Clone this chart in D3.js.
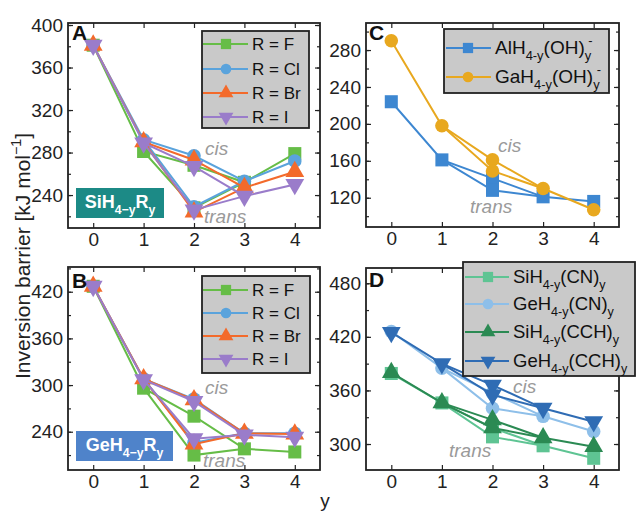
<!DOCTYPE html>
<html>
<head>
<meta charset="utf-8">
<script src="https://cdn.jsdelivr.net/npm/d3@7"></script>
<style>
body { margin: 0; background: #fff; }
text { font-family: "Liberation Sans", Arial, sans-serif; }
</style>
</head>
<body>
<svg id="chart" width="636" height="513"></svg>
<script>
var xTicks = [0, 1, 2, 3, 4];

// panel A: SiH4-yRy
var siLabels = ["R = F", "R = Cl", "R = Br", "R = I"];
var siCis = [[381, 281, 268, 252, 279], [381, 292, 277, 253, 272], [381, 290, 273, 247, 262], [381, 289, 267, 239, 250]];
var siTrans = [228, 229, 224, 226];
var siTicks = [240, 280, 320, 360, 400];

// panel B: GeH4-yRy
var geLabels = ["R = F", "R = Cl", "R = Br", "R = I"];
var geCis = [[427, 296, 260, 218, 214], [427, 308, 282, 238, 238], [427, 308, 281, 238, 237], [427, 307, 279, 236, 233]];
var geTrans = [210, 226, 224, 231];
var geTicks = [240, 300, 360, 420];

// panel C: hydroxides
var ohLabels = [[["AlH", "n"], ["4-y", "sub"], ["(OH)", "n"], ["y", "sub"], ["-", "sup", -3]],
                [["GaH", "n"], ["4-y", "sub"], ["(OH)", "n"], ["y", "sub"], ["-", "sup", -3]]];
var ohCis = [[224, 161, 141, 121, 116], [290, 198, 161, 130, 107]];
var ohTrans = [128, 149];
var ohTicks = [120, 160, 200, 240, 280];

// panel D: CN / CCH
var cnLabels = [[["SiH", "n"], ["4-y", "sub"], ["(CN)", "n"], ["y", "sub"]],
                [["GeH", "n"], ["4-y", "sub"], ["(CN)", "n"], ["y", "sub"]],
                [["SiH", "n"], ["4-y", "sub"], ["(CCH)", "n"], ["y", "sub"]],
                [["GeH", "n"], ["4-y", "sub"], ["(CCH)", "n"], ["y", "sub"]]];
var cnCis = [[379, 346, 318, 298, 284], [426, 385, 357, 331, 314], [380, 346, 327, 307, 297], [425, 390, 366, 340, 325]];
var cnTrans = [308, 340, 318, 355];
var cnTicks = [300, 360, 420, 480];

var halColors = ["#66bd47", "#5aa3dc", "#f36a2b", "#9a7cca"];
var halShapes = ["square", "circle", "up", "down"];

var svg = d3.select('#chart');

function rich(t, parts, size) {
  var cur = 0;
  parts.forEach(function(p) {
    var shift = p[1] === 'sub' ? size * 0.32 : p[1] === 'sup' ? -size * 0.45 : 0;
    var ts = t.append('tspan').text(p[0]).attr('dy', shift - cur);
    if (p[1] !== 'n') ts.attr('font-size', size * 0.68);
    if (p[2]) ts.attr('dx', p[2]);
    cur = shift;
  });
}

function marker(sel, shape, size) {
  var type = shape === 'square' ? d3.symbolSquare : shape === 'circle' ? d3.symbolCircle : d3.symbolTriangle;
  sel.attr('d', d3.symbol().type(type).size(shape === 'circle' ? size * 0.85 : shape === 'square' ? size : size * 0.9)());
  if (shape === 'down') sel.attr('transform', function() { return d3.select(this).attr('transform') + ' rotate(180)'; });
}

function panel(o) {
  var w = o.right - o.left, h = o.bottom - o.top;
  var g = svg.append('g').attr('transform', 'translate(' + o.left + ',' + o.top + ')');
  var x = d3.scaleLinear().domain([-0.5, 4.5]).range([0, w]);
  var y = d3.scaleLinear().domain(o.domain).range([h, 0]);
  var minor = d3.range(o.ticks[0] - o.step, o.domain[1], o.step / 2)
    .filter(function(v) { return v > o.domain[0] && v < o.domain[1]; });

  var axes = [
    g.append('g').call(d3.axisLeft(y).tickValues(o.ticks).tickSize(-5).tickPadding(5).tickFormat(d3.format('d'))),
    g.append('g').call(d3.axisLeft(y).tickValues(minor).tickSize(-3).tickFormat('')),
    g.append('g').attr('transform', 'translate(' + w + ',0)').call(d3.axisRight(y).tickValues(o.ticks).tickSize(-5).tickFormat('')),
    g.append('g').attr('transform', 'translate(' + w + ',0)').call(d3.axisRight(y).tickValues(minor).tickSize(-3).tickFormat('')),
    g.append('g').attr('transform', 'translate(0,' + h + ')').call(d3.axisBottom(x).tickValues(xTicks).tickSize(-5).tickPadding(5).tickFormat(d3.format('d'))),
    g.append('g').call(d3.axisTop(x).tickValues(xTicks).tickSize(-5).tickFormat(''))
  ];
  axes.forEach(function(a) {
    a.select('.domain').remove();
    a.selectAll('line').attr('stroke', '#222').attr('stroke-width', 1.2);
    a.selectAll('text').attr('font-size', 19).attr('fill', '#222')
      .attr('font-family', '"Liberation Sans", Arial, sans-serif');
  });

  // tag box (A, B)
  if (o.tag) {
    svg.append('rect').attr('x', o.tag.x).attr('y', o.tag.y).attr('width', o.tag.w).attr('height', o.tag.h)
      .attr('fill', o.tag.color);
    var tt = svg.append('text').attr('x', o.tag.x + o.tag.w / 2).attr('y', o.tag.y + o.tag.h / 2 + 5)
      .attr('text-anchor', 'middle').attr('fill', '#fff').attr('font-weight', 'bold').attr('font-size', 18);
    rich(tt, o.tag.parts, 18);
  }

  // cis / trans
  o.notes.forEach(function(n) {
    svg.append('text').attr('x', n[1]).attr('y', n[2]).text(n[0])
      .attr('font-style', 'italic').attr('font-size', 19).attr('fill', '#9a9a9a');
  });

  var line = d3.line().x(function(d) { return x(d[0]); }).y(function(d) { return y(d[1]); });
  o.cis.forEach(function(vals, i) {
    var cisPts = vals.map(function(v, j) { return [xTicks[j], v]; });
    var transPts = [[xTicks[1], vals[1]], [xTicks[2], o.trans[i]], [xTicks[3], vals[3]]];
    var sg = g.append('g');
    [cisPts, transPts].forEach(function(pts) {
      sg.append('path').attr('d', line(pts)).attr('fill', 'none')
        .attr('stroke', o.colors[i]).attr('stroke-width', 2);
    });
    cisPts.concat([transPts[1]]).forEach(function(p) {
      var m = sg.append('path').attr('fill', o.colors[i])
        .attr('transform', 'translate(' + x(p[0]) + ',' + y(p[1]) + ')');
      marker(m, o.shapes[i], 170);
    });
  });

  g.append('rect').attr('width', w).attr('height', h).attr('fill', 'none')
    .attr('stroke', '#222').attr('stroke-width', 1.8);

  svg.append('text').attr('x', o.letter[1]).attr('y', o.letter[2]).text(o.letter[0])
    .attr('font-weight', 'bold').attr('font-size', 21).attr('fill', '#111');

  // legend
  var L = o.legend;
  svg.append('rect').attr('x', L.x).attr('y', L.y).attr('width', L.w).attr('height', L.h)
    .attr('fill', '#c9c9c9').attr('stroke', '#222').attr('stroke-width', 1.8);
  L.rows.forEach(function(ry, i) {
    svg.append('line').attr('x1', L.lx0).attr('x2', L.lx1).attr('y1', ry).attr('y2', ry)
      .attr('stroke', o.colors[i]).attr('stroke-width', 2);
    var m = svg.append('path').attr('fill', o.colors[i])
      .attr('transform', 'translate(' + L.mx + ',' + ry + ')');
    marker(m, o.shapes[i], 105);
    var t = svg.append('text').attr('x', L.tx).attr('y', ry + 6).attr('font-size', L.fs).attr('fill', '#111');
    var lab = o.labels[i];
    if (typeof lab === 'string') t.text(lab); else rich(t, lab, L.fs);
  });
}

panel({
  left: 68, right: 320, top: 23, bottom: 228, domain: [209, 401.9], ticks: siTicks, step: 40,
  cis: siCis, trans: siTrans, colors: halColors, shapes: halShapes, labels: siLabels,
  letter: ['A', 72, 40],
  tag: {x: 76, y: 188, w: 88, h: 30, color: '#1c8a86', parts: [["SiH", "n"], ["4\u2212y", "sub"], ["R", "n"], ["y", "sub"]]},
  notes: [['cis', 205, 155], ['trans', 204, 223]],
  legend: {x: 202, y: 31, w: 107, h: 97, rows: [44, 69, 93, 117], lx0: 203, lx1: 248, mx: 226, tx: 252, fs: 17}
});

panel({
  left: 68, right: 320, top: 267, bottom: 470, domain: [190.8, 451.8], ticks: geTicks, step: 60,
  cis: geCis, trans: geTrans, colors: halColors, shapes: halShapes, labels: geLabels,
  letter: ['B', 72, 288],
  tag: {x: 76, y: 431, w: 97, h: 30, color: '#4f83ca', parts: [["GeH", "n"], ["4\u2212y", "sub"], ["R", "n"], ["y", "sub"]]},
  notes: [['cis', 205, 394], ['trans', 203, 467]],
  legend: {x: 202, y: 276, w: 108, h: 97, rows: [290, 313, 336, 359], lx0: 203, lx1: 248, mx: 226, tx: 252, fs: 17}
});

panel({
  left: 366, right: 619, top: 23, bottom: 227, domain: [88.3, 309.3], ticks: ohTicks, step: 40,
  cis: ohCis, trans: ohTrans, colors: ["#3d87d1", "#e8a81f"], shapes: ["square", "circle"], labels: ohLabels,
  letter: ['C', 369, 40],
  notes: [['cis', 498, 152], ['trans', 470, 213]],
  legend: {x: 444, y: 29, w: 165, h: 64, rows: [48, 77], lx0: 446, lx1: 491, mx: 468, tx: 495, fs: 19}
});

panel({
  left: 366, right: 619, top: 268, bottom: 470, domain: [270.9, 497.1], ticks: cnTicks, step: 60,
  cis: cnCis, trans: cnTrans, colors: ["#5ec493", "#8ebfe9", "#2b8a53", "#2f6cb4"],
  shapes: ["square", "circle", "up", "down"], labels: cnLabels,
  letter: ['D', 369, 287],
  notes: [['cis', 513, 393], ['trans', 449, 457]],
  legend: {x: 463, y: 262, w: 172, h: 114, rows: [277, 304, 332, 361], lx0: 465, lx1: 509, mx: 488, tx: 513, fs: 18.5}
});

var yt = svg.append('text').attr('transform', 'translate(30,256) rotate(-90)')
  .attr('text-anchor', 'middle').attr('font-size', 21).attr('fill', '#222');
rich(yt, [["Inversion barrier [kJ mol", "n"], ["\u22121", "sup"], ["]", "n"]], 21);

svg.append('text').attr('x', 325).attr('y', 507).attr('text-anchor', 'middle')
  .attr('font-size', 19).attr('fill', '#222').text('y');
</script>
</body>
</html>
